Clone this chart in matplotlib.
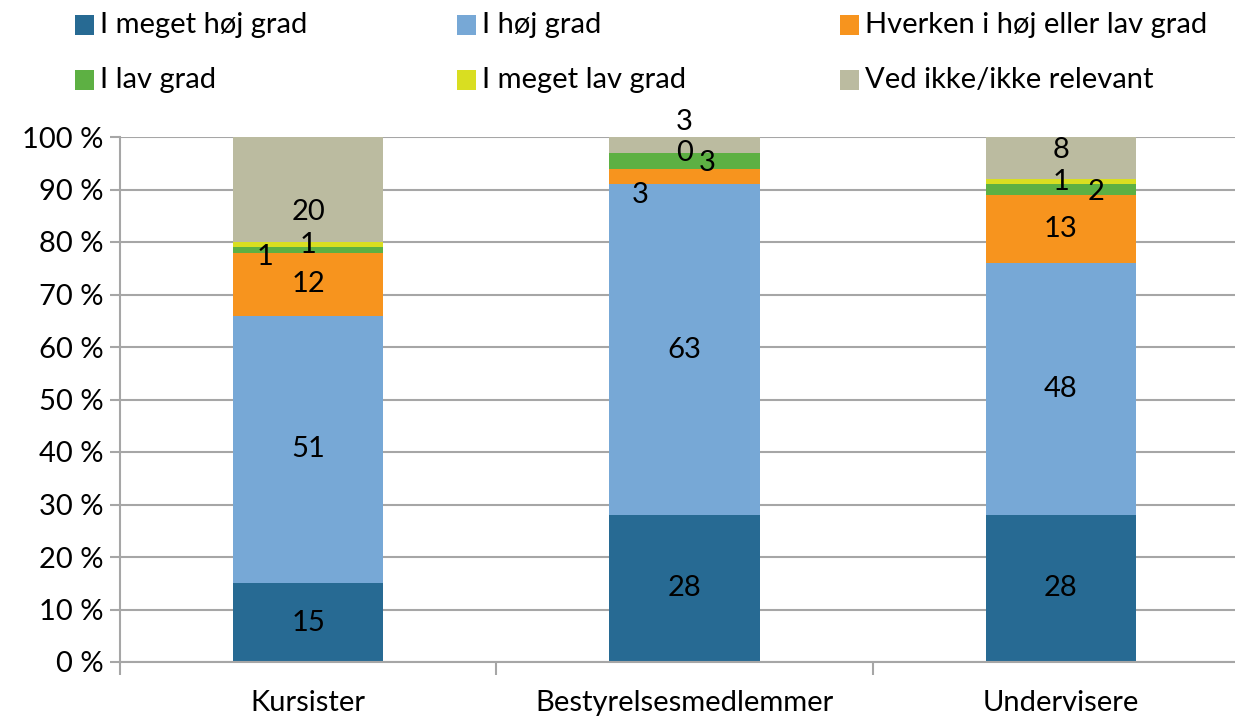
import matplotlib.pyplot as plt
from matplotlib.patches import Rectangle
from matplotlib.ticker import FixedLocator

categories = ["Kursister", "Bestyrelsesmedlemmer", "Undervisere"]
series_names = ["I meget høj grad", "I høj grad", "Hverken i høj eller lav grad",
                "I lav grad", "I meget lav grad", "Ved ikke/ikke relevant"]
meget_hoj = [15, 28, 28]
hoj = [51, 63, 48]
hverken = [12, 3, 13]
lav = [1, 3, 2]
meget_lav = [1, 0, 1]
ved_ikke = [20, 3, 8]
y_ticks = [0, 10, 20, 30, 40, 50, 60, 70, 80, 90, 100]

series = [meget_hoj, hoj, hverken, lav, meget_lav, ved_ikke]
colors = ["#276A93", "#77A8D6", "#F7941E", "#5DB043", "#D9DE21", "#BBBBA0"]

plt.rcParams['font.family'] = ['Lato', 'DejaVu Sans']
fs = 21

fig = plt.figure(figsize=(12.35, 7.19), dpi=100)
ax = fig.add_axes([120 / 1235, 57 / 719, 1129 / 1235, 525 / 719])

x = list(range(len(categories)))
bottoms = [0, 0, 0]
for vals, col in zip(series, colors):
    ax.bar(x, vals, bottom=bottoms, width=0.4, color=col, zorder=2)
    bottoms = [b + v for b, v in zip(bottoms, vals)]

# label offsets (series index, category index) -> (dx, dy), like Excel placed them
label_shift = {
    (5, 0): (0.0, -4.2), (3, 0): (-0.114, -1.4),
    (2, 1): (-0.119, -3.5), (3, 1): (0.061, -0.5), (5, 1): (0.0, 4.4),
    (3, 2): (0.093, -0.5), (5, 2): (0.0, 1.5),
}
bottoms = [0, 0, 0]
for si, vals in enumerate(series):
    for ci, v in enumerate(vals):
        dx, dy = label_shift.get((si, ci), (0, 0))
        ax.text(ci + dx, bottoms[ci] + v / 2 + dy, str(v), ha='center', va='center',
                fontsize=fs, color='black', zorder=3)
    bottoms = [b + v for b, v in zip(bottoms, vals)]

ax.set_xlim(-0.5, 2.5)
ax.set_ylim(0, 100)
ax.set_yticks(y_ticks)
ax.set_yticklabels([f"{t} %" for t in y_ticks], fontsize=fs)
ax.yaxis.grid(True, color='#A6A6A6', linewidth=1.5, zorder=0)
ax.set_axisbelow(True)
ax.set_xticks(x)
ax.set_xticklabels(categories, fontsize=fs)
ax.xaxis.set_minor_locator(FixedLocator([-0.5, 0.5, 1.5, 2.5]))
ax.tick_params(axis='x', which='major', length=0, pad=20)
ax.tick_params(axis='x', which='minor', length=9, color='#A6A6A6', width=1.5)
ax.tick_params(axis='y', length=7, color='#A6A6A6', width=1.5, pad=5)
for s in ['top', 'right']:
    ax.spines[s].set_visible(False)
for s in ['left', 'bottom']:
    ax.spines[s].set_color('#A6A6A6')
    ax.spines[s].set_linewidth(1.5)

# legend, three equal columns like the original
col_x = [75, 457, 840]
row_y = [25, 80]
for i, (name, col) in enumerate(zip(series_names, colors)):
    px = col_x[i % 3]
    py = row_y[i // 3]
    fig.patches.append(Rectangle((px / 1235, 1 - (py + 10) / 719), 19 / 1235, 20 / 719,
                                 transform=fig.transFigure, facecolor=col, edgecolor='none'))
    fig.text((px + 25) / 1235, 1 - py / 719, name, fontsize=fs, va='center', ha='left')

fig.savefig("out.png", dpi=100)
